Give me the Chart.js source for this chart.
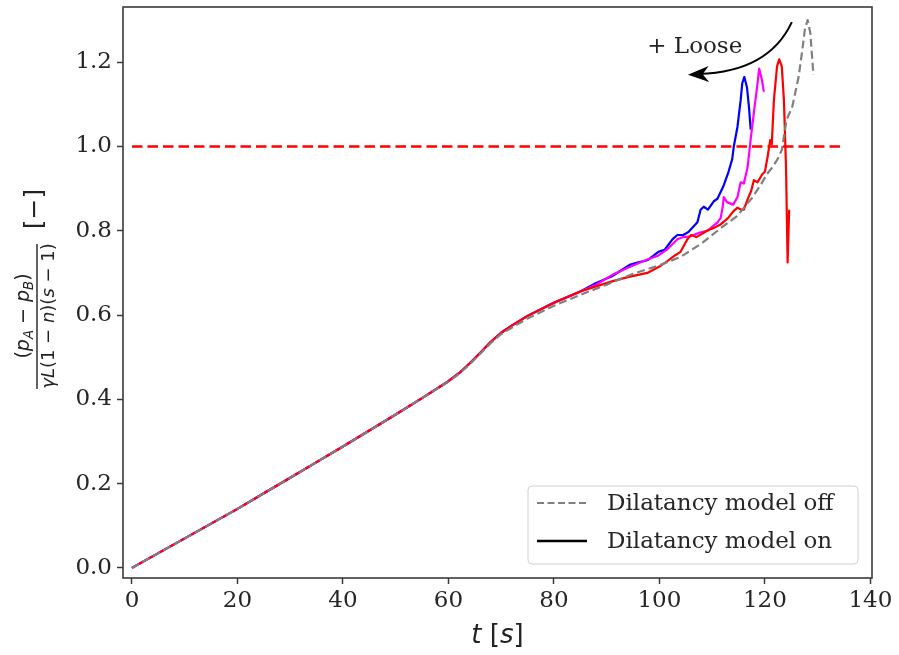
<!DOCTYPE html>
<html>
<head>
<meta charset="utf-8">
<script src="https://cdn.jsdelivr.net/npm/chart.js@4.4.1/dist/chart.umd.min.js"></script>
<style>
  html, body { margin: 0; padding: 0; background: #ffffff; }
  #wrap { width: 899px; height: 655px; }
</style>
</head>
<body>
<div id="wrap"><canvas id="c" width="899" height="655"></canvas></div>
<script>
// Tick values
const xTicks = [0, 20, 40, 60, 80, 100, 120, 140];
const yTicks = [0.0, 0.2, 0.4, 0.6, 0.8, 1.0, 1.2];

// Dilatancy model off (grey dashed)
const offTime  = [0, 5, 10, 15, 20, 25, 30, 35, 40, 45, 50, 55, 60, 62, 64, 66, 68, 70, 72, 75, 80, 85, 90, 95, 100, 104, 108, 111, 114.7, 117.7, 119.4, 120.4, 121.5, 122.4, 123.2, 124.1, 125.2, 126.4, 127.1, 127.6, 128.1, 128.6, 129.2];
const offRatio = [0, 0.035, 0.07, 0.105, 0.14, 0.177, 0.214, 0.251, 0.288, 0.326, 0.364, 0.403, 0.442, 0.46, 0.483, 0.508, 0.533, 0.555, 0.57, 0.592, 0.622, 0.648, 0.672, 0.698, 0.718, 0.738, 0.77, 0.80, 0.835, 0.88, 0.913, 0.935, 0.952, 0.97, 0.992, 1.063, 1.095, 1.166, 1.23, 1.28, 1.30, 1.27, 1.17];

// Common start of the "model on" runs
const onBaseTime  = [0, 5, 10, 15, 20, 25, 30, 35, 40, 45, 50, 55, 60, 62, 64, 66, 68, 70, 72, 75, 80, 85];
const onBaseRatio = [0, 0.035, 0.07, 0.105, 0.14, 0.177, 0.214, 0.251, 0.288, 0.326, 0.364, 0.403, 0.443, 0.462, 0.485, 0.51, 0.536, 0.558, 0.575, 0.598, 0.629, 0.656];

// Dilatancy model on: looser packings (blue, magenta) and densest (red)
const blueTime  = [88, 91, 94.5, 96, 97.7, 99, 99.8, 101, 102.5, 103.4, 104.5, 105.5, 107.2, 107.8, 108.4, 109.2, 110.3, 111, 112.1, 113.1, 113.8, 114.1, 114.8, 115.4, 115.7, 116.1, 116.6, 117, 117.3];
const blueRatio = [0.676, 0.692, 0.72, 0.725, 0.73, 0.742, 0.75, 0.755, 0.78, 0.79, 0.79, 0.797, 0.82, 0.85, 0.857, 0.85, 0.87, 0.876, 0.905, 0.94, 0.97, 1.0, 1.047, 1.11, 1.15, 1.165, 1.14, 1.09, 1.04];

const magentaTime  = [88, 91.3, 94, 97.7, 99.6, 101.5, 103.4, 104.5, 105.9, 107.5, 109.1, 111, 111.6, 112, 112.2, 112.8, 114, 114.8, 115.4, 116, 116.7, 117.3, 117.9, 118.6, 118.9, 119.4, 119.8];
const magentaRatio = [0.672, 0.697, 0.712, 0.732, 0.74, 0.756, 0.78, 0.785, 0.787, 0.795, 0.80, 0.82, 0.83, 0.857, 0.88, 0.868, 0.862, 0.88, 0.915, 0.912, 0.95, 1.017, 1.08, 1.15, 1.185, 1.16, 1.13];

const redTime  = [88, 91, 94, 97.7, 100, 101.5, 103, 104, 105.3, 106, 107, 108, 109, 110.5, 111.6, 113, 114, 114.8, 115.5, 116, 116.7, 117.4, 117.9, 118.6, 119.5, 120, 120.5, 121, 121.3, 121.7, 122.3, 122.7, 123.2, 123.6, 124, 124.3, 124.6];
const redRatio = [0.668, 0.68, 0.69, 0.70, 0.715, 0.728, 0.742, 0.75, 0.78, 0.79, 0.785, 0.792, 0.80, 0.808, 0.815, 0.83, 0.846, 0.855, 0.85, 0.85, 0.874, 0.895, 0.92, 0.915, 0.934, 0.94, 0.975, 1.015, 1.005, 1.11, 1.19, 1.207, 1.19, 1.11, 0.95, 0.725, 0.85];

// Critical value line
const criticalTime  = [0, 135];
const criticalRatio = [1.0, 1.0];

// Annotation anchor points, in data units
const arrowPath  = [[125.1, 1.295], [120.7, 1.177], [107.5, 1.172]]; // start, control, end
const arrowTip   = [105.4, 1.170];
const looseLabel = [106.7, 1.236];

function pts(t, r) { return t.map((v, i) => ({ x: v, y: r[i] })); }

const SERIF = '"DejaVu Serif", "Liberation Serif", serif';
const SANS  = '"DejaVu Sans", sans-serif';

// Draws a run of text pieces (normal / italic / subscript) centred at (x, y)
function drawRuns(ctx, runs, x, y, size) {
  const fontFor = r => (r.i ? 'italic ' : '') + (r.sub ? size * 0.7 : size) + 'px ' + SANS;
  let w = 0;
  runs.forEach(r => { ctx.font = fontFor(r); w += ctx.measureText(r.t).width; });
  let cx = x - w / 2;
  ctx.textAlign = 'left';
  ctx.textBaseline = 'middle';
  runs.forEach(r => {
    ctx.font = fontFor(r);
    ctx.fillText(r.t, cx, y + (r.sub ? size * 0.28 : 0));
    cx += ctx.measureText(r.t).width;
  });
  return w;
}

const decorations = {
  id: 'decorations',
  afterDraw(chart) {
    const ctx = chart.ctx;
    const a = chart.chartArea;
    const xs = chart.scales.x, ys = chart.scales.y;
    const px = p => [xs.getPixelForValue(p[0]), ys.getPixelForValue(p[1])];

    ctx.save();
    // frame
    ctx.strokeStyle = '#3a3a3a';
    ctx.lineWidth = 1.6;
    ctx.strokeRect(a.left, a.top, a.right - a.left, a.bottom - a.top);

    // legend
    const lx = 528, ly = 486, lw = 330, lh = 78, rr = 4;
    ctx.beginPath();
    ctx.moveTo(lx + rr, ly);
    ctx.arcTo(lx + lw, ly, lx + lw, ly + lh, rr);
    ctx.arcTo(lx + lw, ly + lh, lx, ly + lh, rr);
    ctx.arcTo(lx, ly + lh, lx, ly, rr);
    ctx.arcTo(lx, ly, lx + lw, ly, rr);
    ctx.closePath();
    ctx.fillStyle = 'rgba(255,255,255,0.8)';
    ctx.fill();
    ctx.strokeStyle = '#d0d0d0';
    ctx.lineWidth = 1;
    ctx.stroke();

    ctx.lineWidth = 2;
    ctx.strokeStyle = '#808080';
    ctx.setLineDash([7, 3.5]);
    ctx.beginPath(); ctx.moveTo(537, 503); ctx.lineTo(587, 503); ctx.stroke();
    ctx.setLineDash([]);
    ctx.strokeStyle = '#000000';
    ctx.lineWidth = 2.5;
    ctx.beginPath(); ctx.moveTo(537, 541); ctx.lineTo(587, 541); ctx.stroke();

    ctx.fillStyle = '#262626';
    ctx.font = '23px ' + SERIF;
    ctx.textAlign = 'left';
    ctx.textBaseline = 'middle';
    ctx.fillText('Dilatancy model off', 607, 504);
    ctx.fillText('Dilatancy model on', 607, 542);

    // "+ Loose" arrow
    const p0 = px(arrowPath[0]), c = px(arrowPath[1]), p1 = px(arrowPath[2]), tip = px(arrowTip);
    ctx.strokeStyle = '#000';
    ctx.lineWidth = 2;
    ctx.beginPath();
    ctx.moveTo(p0[0], p0[1]);
    ctx.quadraticCurveTo(c[0], c[1], p1[0], p1[1]);
    ctx.stroke();
    const ang = Math.atan2(tip[1] - c[1], tip[0] - c[0]);
    const hl = 21, hw = 8;
    ctx.fillStyle = '#000';
    ctx.beginPath();
    ctx.moveTo(tip[0], tip[1]);
    ctx.lineTo(tip[0] - hl * Math.cos(ang) + hw * Math.sin(ang), tip[1] - hl * Math.sin(ang) - hw * Math.cos(ang));
    ctx.lineTo(tip[0] - hl * 0.7 * Math.cos(ang), tip[1] - hl * 0.7 * Math.sin(ang));
    ctx.lineTo(tip[0] - hl * Math.cos(ang) - hw * Math.sin(ang), tip[1] - hl * Math.sin(ang) + hw * Math.cos(ang));
    ctx.closePath();
    ctx.fill();

    const lp = px(looseLabel);
    ctx.fillStyle = '#222';
    ctx.font = '23px ' + SERIF;
    ctx.textAlign = 'center';
    ctx.textBaseline = 'middle';
    ctx.fillText('+ Loose', lp[0], lp[1]);

    // x-axis title: t [s]
    ctx.fillStyle = '#222';
    drawRuns(ctx, [{ t: 't', i: true }, { t: ' [' }, { t: 's', i: true }, { t: ']' }], (a.left + a.right) / 2, 636, 26);

    // y-axis title: (pA - pB) / (gamma L (1-n)(s-1)) [-]
    ctx.save();
    ctx.translate(37, 316);
    ctx.rotate(-Math.PI / 2);
    ctx.strokeStyle = '#222';
    ctx.lineWidth = 1.4;
    ctx.beginPath(); ctx.moveTo(-73, 0); ctx.lineTo(72, 0); ctx.stroke();
    drawRuns(ctx, [{ t: '(' }, { t: 'p', i: true }, { t: 'A', i: true, sub: true }, { t: ' \u2212 ' }, { t: 'p', i: true }, { t: 'B', i: true, sub: true }, { t: ')' }], 0, -13, 19);
    drawRuns(ctx, [{ t: '\u03b3', i: true }, { t: 'L', i: true }, { t: '(1 \u2212 ' }, { t: 'n', i: true }, { t: ')(' }, { t: 's', i: true }, { t: ' \u2212 1)' }], 0, 12, 18);
    ctx.restore();

    ctx.save();
    ctx.translate(35, 209);
    ctx.rotate(-Math.PI / 2);
    drawRuns(ctx, [{ t: '[\u2212]' }], 0, 0, 25);
    ctx.restore();

    ctx.restore();
  }
};

const lineStyle = { pointRadius: 0, tension: 0, fill: false, borderJoinStyle: 'round', borderCapStyle: 'butt' };

new Chart(document.getElementById('c'), {
  type: 'line',
  data: {
    datasets: [
      Object.assign({ label: 'critical', data: pts(criticalTime, criticalRatio), borderColor: '#ff0000', borderWidth: 2.5, borderDash: [10.5, 5], order: 0 }, lineStyle),
      Object.assign({ label: 'Dilatancy model off', data: pts(offTime, offRatio), borderColor: '#808080', borderWidth: 2.2, borderDash: [8, 4], order: 1 }, lineStyle),
      Object.assign({ label: 'dense', data: pts(onBaseTime.concat(redTime), onBaseRatio.concat(redRatio)), borderColor: '#ff0000', borderWidth: 2.2, order: 2 }, lineStyle),
      Object.assign({ label: 'medium', data: pts(onBaseTime.concat(magentaTime), onBaseRatio.concat(magentaRatio)), borderColor: '#ff00ff', borderWidth: 2.2, order: 3 }, lineStyle),
      Object.assign({ label: 'loose', data: pts(onBaseTime.concat(blueTime), onBaseRatio.concat(blueRatio)), borderColor: '#0000ff', borderWidth: 2.2, order: 4 }, lineStyle)
    ]
  },
  options: {
    responsive: false,
    animation: false,
    events: [],
    layout: { padding: { left: 0, right: 27, top: 7, bottom: 0 } },
    plugins: { legend: { display: false }, tooltip: { enabled: false } },
    scales: {
      x: {
        type: 'linear',
        min: -1.7,
        max: 140.3,
        afterBuildTicks: s => { s.ticks = xTicks.map(v => ({ value: v })); },
        afterFit: s => { s.height = 77; s.paddingLeft = 0; s.paddingRight = 0; },
        grid: { drawOnChartArea: false, drawTicks: true, tickLength: 6, tickColor: '#3a3a3a', tickWidth: 1.5 },
        border: { display: false },
        ticks: { color: '#262626', font: { family: SERIF, size: 23 }, padding: 3, maxRotation: 0, autoSkip: false, callback: v => String(v) }
      },
      y: {
        type: 'linear',
        min: -0.024,
        max: 1.331,
        afterBuildTicks: s => { s.ticks = yTicks.map(v => ({ value: v })); },
        afterFit: s => { s.width = 123; s.paddingTop = 0; s.paddingBottom = 0; },
        grid: { drawOnChartArea: false, drawTicks: true, tickLength: 6, tickColor: '#3a3a3a', tickWidth: 1.5 },
        border: { display: false },
        ticks: { color: '#262626', font: { family: SERIF, size: 23 }, padding: 5, autoSkip: false, callback: v => v.toFixed(1) }
      }
    }
  },
  plugins: [decorations]
});
</script>
</body>
</html>
